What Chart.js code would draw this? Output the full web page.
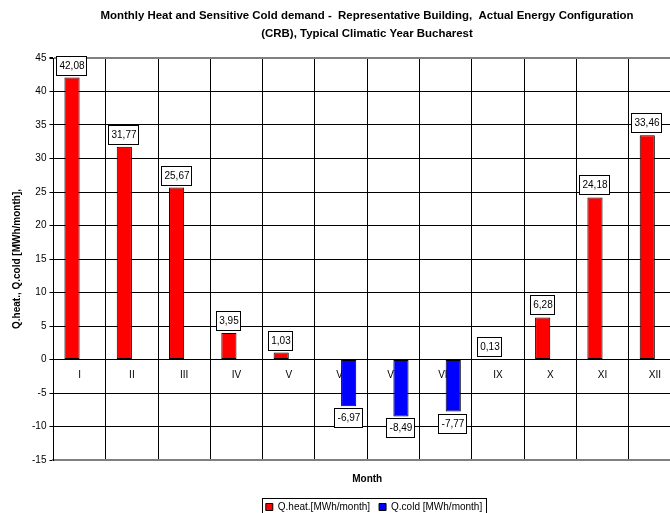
<!DOCTYPE html>
<html>
<head>
<meta charset="utf-8">
<script src="https://cdn.jsdelivr.net/npm/chart.js@4/dist/chart.umd.min.js"></script>
<style>
  html, body { margin: 0; padding: 0; background: #fff; overflow: hidden; width: 670px; height: 513px; }
  #wrap { width: 734px; height: 522px; }
</style>
</head>
<body>
<div id="wrap"><canvas id="c" width="734" height="522"></canvas></div>
<script>
const months = ['I', 'II', 'III', 'IV', 'V', 'VI', 'VII', 'VIII', 'IX', 'X', 'XI', 'XII'];
const heatValues = [42.08, 31.77, 25.67, 3.95, 1.03, null, null, null, 0.13, 6.28, 24.18, 33.46];
const coldValues = [null, null, null, null, null, -6.97, -8.49, -7.77, null, null, null, null];
const yMin = -15;
const yMax = 45;
const yStep = 5;

const FONT = '"Liberation Sans", Arial, sans-serif';

// title and legend are centred on the whole canvas, not on the padded box
const centreBlocks = {
  id: 'centreBlocks',
  afterLayout(chart) {
    if (chart.titleBlock) {
      chart.titleBlock.left = 0;
      chart.titleBlock.right = chart.width;
    }
    if (chart.legend) {
      chart.legend.left = 14;
      chart.legend.right = chart.width;
    }
  }
};

// month names sit just under the zero line, beneath the bars
const monthLabels = {
  id: 'monthLabels',
  beforeDatasetsDraw(chart) {
    const { ctx, scales: { x, y } } = chart;
    const y0 = y.getPixelForValue(0) + 16;
    ctx.save();
    ctx.font = '10px ' + FONT;
    ctx.fillStyle = '#000';
    ctx.textAlign = 'center';
    ctx.textBaseline = 'middle';
    months.forEach((m, i) => ctx.fillText(m, x.getPixelForValue(i), y0));
    ctx.restore();
  }
};

// boxed value labels at the end of each bar
const valueBoxes = {
  id: 'valueBoxes',
  afterDatasetsDraw(chart) {
    const { ctx } = chart;
    ctx.save();
    ctx.font = '10px ' + FONT;
    ctx.textAlign = 'center';
    ctx.textBaseline = 'middle';
    chart.data.datasets.forEach((ds, di) => {
      const meta = chart.getDatasetMeta(di);
      meta.data.forEach((bar, i) => {
        const v = ds.data[i];
        if (v === null || v === undefined) return;
        const txt = v.toFixed(2).replace('.', ',');
        const w = Math.round(ctx.measureText(txt).width) + 6;
        const h = 20;
        const cx = Math.round(bar.x);
        let top;
        if (v >= 0) top = Math.round(bar.y) - 2 - h;
        else top = Math.round(bar.y) + 2;
        const left = cx - Math.round(w / 2);
        ctx.fillStyle = '#fff';
        ctx.fillRect(left, top, w, h);
        ctx.strokeStyle = '#000';
        ctx.lineWidth = 1;
        ctx.strokeRect(left + 0.5, top + 0.5, w - 1, h - 1);
        ctx.fillStyle = '#000';
        ctx.fillText(txt, cx, top + h / 2 + 0.5);
      });
    });
    ctx.restore();
  }
};

// thin frame around the legend entries
const legendFrame = {
  id: 'legendFrame',
  afterDraw(chart) {
    const boxes = chart.legend && chart.legend.legendHitBoxes;
    if (!boxes || !boxes.length) return;
    const { ctx } = chart;
    const left = Math.min(...boxes.map(b => b.left)) - 4;
    const right = Math.max(...boxes.map(b => b.left + b.width)) + 4;
    const top = Math.min(...boxes.map(b => b.top)) - 4;
    const bottom = Math.max(...boxes.map(b => b.top + b.height)) + 4;
    ctx.save();
    ctx.strokeStyle = '#000';
    ctx.lineWidth = 1;
    ctx.strokeRect(Math.round(left) + 0.5, Math.round(top) + 0.5, Math.round(right - left), Math.round(bottom - top));
    ctx.restore();
  }
};

new Chart(document.getElementById('c'), {
  type: 'bar',
  data: {
    labels: months,
    datasets: [
      {
        label: 'Q.heat.[MWh/month]',
        data: heatValues,
        backgroundColor: '#ff0000',
        borderColor: '#000',
        borderWidth: 1,
        borderSkipped: false
      },
      {
        label: 'Q.cold [MWh/month]',
        data: coldValues,
        backgroundColor: '#0000ff',
        borderColor: '#000',
        borderWidth: 1,
        borderSkipped: false
      }
    ]
  },
  options: {
    responsive: false,
    animation: false,
    events: [],
    layout: { padding: { left: 5, right: 53, top: 0, bottom: 0 } },
    datasets: { bar: { categoryPercentage: 0.58, barPercentage: 1, skipNull: false } },
    scales: {
      x: {
        offset: true,
        grid: { display: true, offset: true, color: '#000', lineWidth: 1, drawTicks: false },
        border: { display: true, color: '#808080', width: 2 },
        ticks: { display: false },
        title: {
          display: true,
          text: 'Month',
          color: '#000',
          font: { family: FONT, size: 10, weight: 'bold', lineHeight: 1.2 },
          padding: { top: 13, bottom: 8 }
        }
      },
      y: {
        min: yMin,
        max: yMax,
        ticks: { stepSize: yStep, color: '#000', font: { family: FONT, size: 10 }, padding: 3 },
        grid: {
          color: (c) => (c.tick && c.tick.value === yMax ? '#808080' : '#000'),
          lineWidth: (c) => (c.tick && c.tick.value === yMax ? 2 : 1),
          tickLength: 4,
          tickColor: '#000'
        },
        border: { display: true, color: '#000', width: 1 },
        title: {
          display: true,
          text: 'Q.heat., Q.cold [MWh/month],',
          color: '#000',
          font: { family: FONT, size: 10, weight: 'bold', lineHeight: 1.2 },
          padding: { top: 6, bottom: 6 }
        }
      }
    },
    plugins: {
      title: {
        display: true,
        text: [
          'Monthly Heat and Sensitive Cold demand -  Representative Building,  Actual Energy Configuration',
          '(CRB), Typical Climatic Year Bucharest'
        ],
        color: '#000',
        font: { family: FONT, size: 11.45, weight: 'bold', lineHeight: 18 / 11.45 },
        padding: { top: 7, bottom: 15 }
      },
      legend: {
        position: 'bottom',
        labels: {
          color: '#000',
          boxWidth: 7,
          boxHeight: 7,
          padding: 9,
          font: { family: FONT, size: 10 }
        }
      },
      tooltip: { enabled: false }
    }
  },
  plugins: [centreBlocks, monthLabels, valueBoxes, legendFrame]
});
</script>
</body>
</html>
